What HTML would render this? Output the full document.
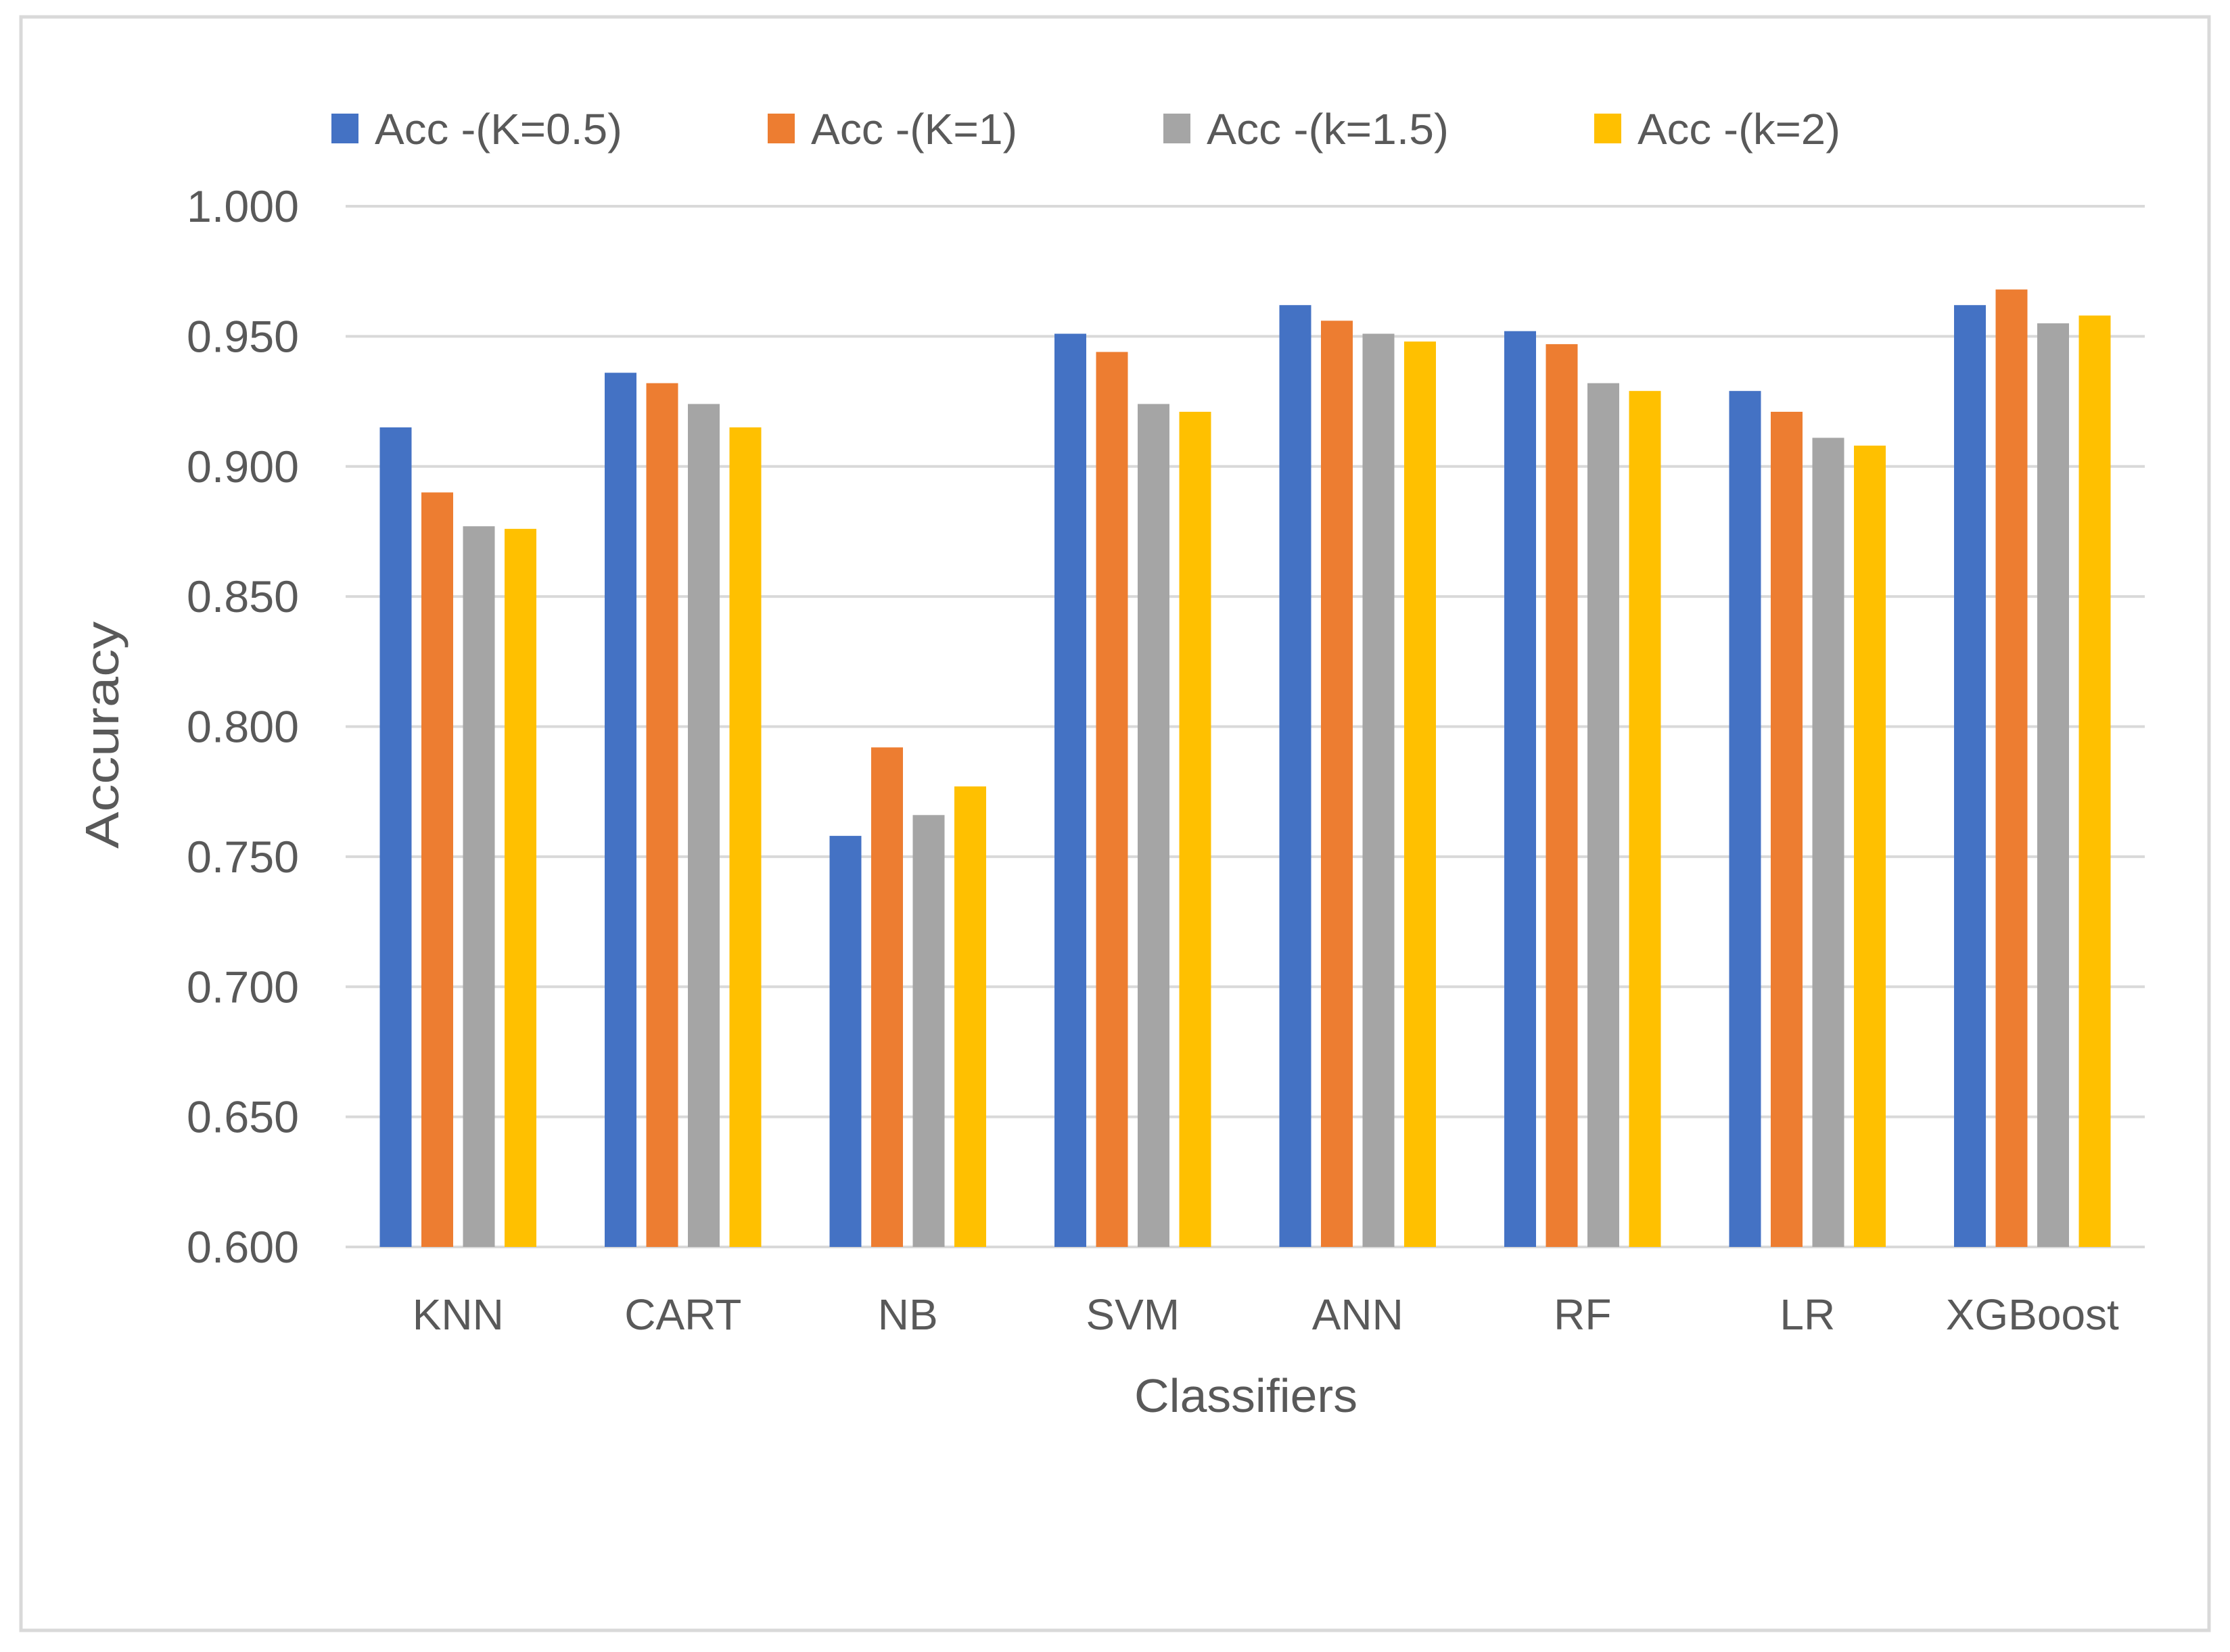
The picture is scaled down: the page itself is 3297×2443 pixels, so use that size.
<!DOCTYPE html>
<html><head><meta charset="utf-8"><style>
html,body{margin:0;padding:0;background:#fff;}
svg{display:block;font-family:"Liberation Sans",Arial,sans-serif;}
</style></head><body>
<svg id="chart" width="3297" height="2443" viewBox="0 0 3297 2443" xmlns="http://www.w3.org/2000/svg">
<rect x="31" y="25" width="3235" height="2386" fill="#fff" stroke="#d9d9d9" stroke-width="5"/>
<g id="grid"></g><g id="bars"></g><g id="labels"></g><g id="legend"></g>
<text x="0" y="0" transform="translate(175,1087) rotate(-90)" text-anchor="middle" font-size="70" fill="#595959" textLength="336" lengthAdjust="spacingAndGlyphs">Accuracy</text>
<text x="1842" y="2088" text-anchor="middle" font-size="70" fill="#595959" textLength="330" lengthAdjust="spacingAndGlyphs">Classifiers</text>
</svg>
<script>
const categories=["KNN","CART","NB","SVM","ANN","RF","LR","XGBoost"];
const seriesNames=["Acc -(K=0.5)","Acc -(K=1)","Acc -(k=1.5)","Acc -(k=2)"];
const accK05=[0.915,0.936,0.758,0.951,0.962,0.952,0.929,0.962];
const accK1=[0.890,0.932,0.792,0.944,0.956,0.947,0.921,0.968];
const accK15=[0.877,0.924,0.766,0.924,0.951,0.932,0.911,0.955];
const accK2=[0.876,0.915,0.777,0.921,0.948,0.929,0.908,0.958];
const yTicks=[0.6,0.65,0.7,0.75,0.8,0.85,0.9,0.95,1.0];
const yTickLabels=["0.600","0.650","0.700","0.750","0.800","0.850","0.900","0.950","1.000"];
const colors=["#4472c4","#ed7d31","#a5a5a5","#ffc000"];
const series=[accK05,accK1,accK15,accK2];
const NS="http://www.w3.org/2000/svg";
const L=511,R=3171,Y0=1844,Y1=305,vmin=0.6,vmax=1.0;
const y=v=>Y0-(v-vmin)/(vmax-vmin)*(Y0-Y1);
const bw=(R-L)/categories.length;
const xc=i=>L+bw*(i+0.5);
function mk(t,a,p){const e=document.createElementNS(NS,t);for(const k in a)e.setAttribute(k,a[k]);p.appendChild(e);return e;}
const grid=document.getElementById('grid'),bars=document.getElementById('bars'),labels=document.getElementById('labels'),legend=document.getElementById('legend');
yTicks.forEach((v,i)=>{
 const ln=mk('line',{x1:L,x2:R,y1:y(v),y2:y(v),stroke:'#d9d9d9','stroke-width':4},grid);
 
 
 const t=mk('text',{x:442,y:y(v)+23,'text-anchor':'end','font-size':66,fill:'#595959',textLength:166,lengthAdjust:'spacingAndGlyphs'},labels);
 t.textContent=yTickLabels[i];
 
 
});
const pitch=61.5,barW=47;
categories.forEach((c,i)=>{
 series.forEach((s,j)=>{
  const x=xc(i)+(j-1.5)*pitch-barW/2;
  const r=mk('rect',{x:x,y:y(s[i]),width:barW,height:Y0-y(s[i]),fill:colors[j]},bars);
  
  
 });
 const t=mk('text',{x:xc(i),y:1966,'text-anchor':'middle','font-size':64,fill:'#595959'},labels);
 t.textContent=c;
 
 
});
const lx=[490,1135,1720,2357],lw=[366,305,358,300];
seriesNames.forEach((n,j)=>{
 const sq=mk('rect',{x:lx[j],y:168,width:40,height:44,fill:colors[j]},legend);
 
 
 const t=mk('text',{x:lx[j]+64,y:213,'font-size':64,fill:'#595959',textLength:lw[j],lengthAdjust:'spacingAndGlyphs'},legend);
 t.textContent=n;
 
 
});
</script>
</body></html>
